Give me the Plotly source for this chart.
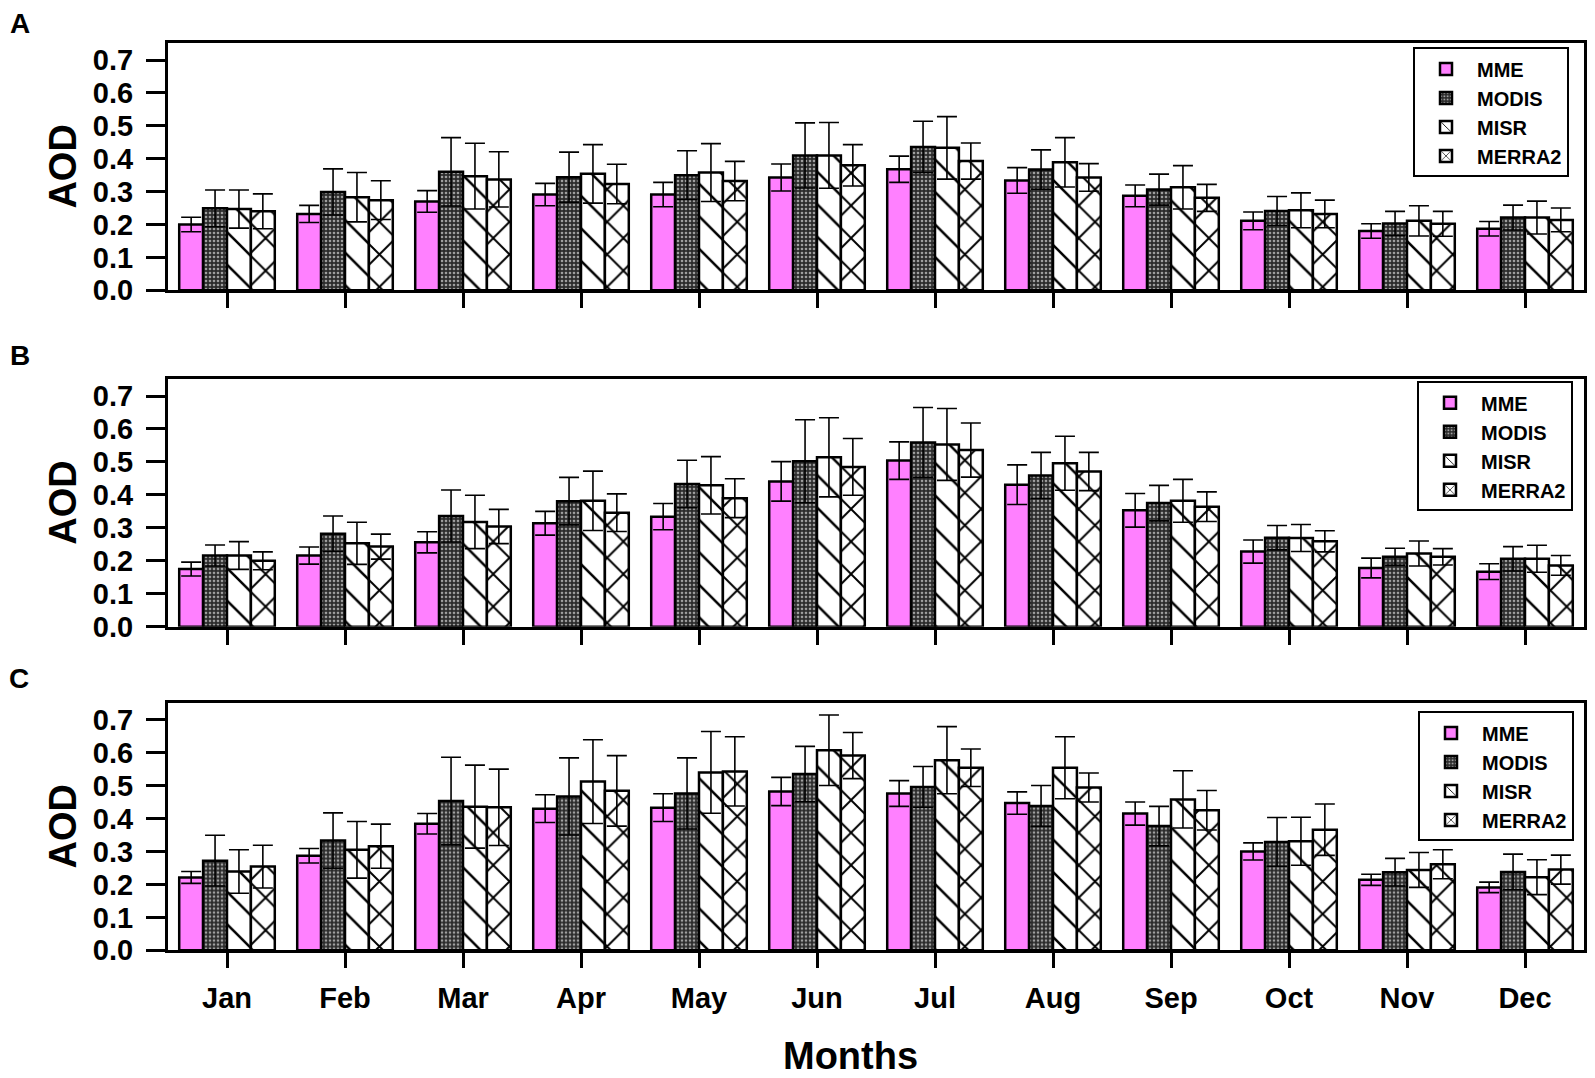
# Import modules
import plotly.graph_objects as go

# Month categories shared by all three panels
months = ['Jan', 'Feb', 'Mar', 'Apr', 'May', 'Jun', 'Jul', 'Aug', 'Sep', 'Oct', 'Nov', 'Dec']
series_names = ['MME', 'MODIS', 'MISR', 'MERRA2']
panel_letters = ['A', 'B', 'C']

# Panel A values (mean AOD and error)
a_mme = [0.200, 0.232, 0.270, 0.291, 0.291, 0.343, 0.368, 0.334, 0.287, 0.211, 0.180, 0.187]
a_mme_err = [0.022, 0.026, 0.033, 0.034, 0.037, 0.041, 0.040, 0.039, 0.033, 0.027, 0.022, 0.022]
a_modis = [0.249, 0.299, 0.360, 0.344, 0.350, 0.410, 0.436, 0.367, 0.306, 0.241, 0.203, 0.221]
a_modis_err = [0.056, 0.070, 0.104, 0.076, 0.074, 0.099, 0.078, 0.060, 0.047, 0.044, 0.037, 0.038]
a_misr = [0.247, 0.283, 0.347, 0.354, 0.358, 0.410, 0.433, 0.389, 0.313, 0.243, 0.211, 0.221]
a_misr_err = [0.058, 0.075, 0.100, 0.089, 0.088, 0.100, 0.095, 0.075, 0.066, 0.053, 0.046, 0.050]
a_merra2 = [0.240, 0.274, 0.337, 0.323, 0.332, 0.380, 0.393, 0.343, 0.281, 0.232, 0.202, 0.214]
a_merra2_err = [0.053, 0.059, 0.084, 0.060, 0.060, 0.063, 0.055, 0.042, 0.041, 0.042, 0.038, 0.036]

# Panel B values
b_mme = [0.175, 0.216, 0.256, 0.314, 0.334, 0.441, 0.504, 0.431, 0.353, 0.228, 0.178, 0.167]
b_mme_err = [0.021, 0.026, 0.032, 0.036, 0.040, 0.060, 0.057, 0.060, 0.051, 0.035, 0.030, 0.024]
b_modis = [0.216, 0.282, 0.336, 0.381, 0.433, 0.502, 0.559, 0.459, 0.375, 0.270, 0.212, 0.206]
b_modis_err = [0.032, 0.054, 0.079, 0.072, 0.072, 0.126, 0.106, 0.070, 0.054, 0.037, 0.026, 0.037]
b_misr = [0.216, 0.253, 0.318, 0.382, 0.429, 0.514, 0.553, 0.496, 0.382, 0.269, 0.222, 0.206]
b_misr_err = [0.042, 0.064, 0.081, 0.090, 0.087, 0.120, 0.109, 0.082, 0.065, 0.041, 0.038, 0.041]
b_merra2 = [0.200, 0.243, 0.304, 0.346, 0.390, 0.485, 0.536, 0.471, 0.364, 0.259, 0.212, 0.186]
b_merra2_err = [0.027, 0.038, 0.052, 0.057, 0.059, 0.086, 0.082, 0.058, 0.045, 0.032, 0.025, 0.030]

# Panel C values
c_mme = [0.221, 0.287, 0.384, 0.430, 0.433, 0.482, 0.476, 0.447, 0.415, 0.300, 0.214, 0.191]
c_mme_err = [0.018, 0.022, 0.031, 0.042, 0.042, 0.043, 0.039, 0.034, 0.035, 0.026, 0.017, 0.016]
c_modis = [0.272, 0.333, 0.453, 0.467, 0.476, 0.535, 0.496, 0.438, 0.377, 0.329, 0.237, 0.238]
c_modis_err = [0.077, 0.084, 0.133, 0.117, 0.108, 0.084, 0.062, 0.062, 0.060, 0.074, 0.042, 0.054]
c_misr = [0.239, 0.305, 0.436, 0.512, 0.540, 0.607, 0.577, 0.554, 0.458, 0.331, 0.244, 0.222]
c_misr_err = [0.066, 0.086, 0.126, 0.127, 0.124, 0.107, 0.102, 0.094, 0.087, 0.073, 0.053, 0.053]
c_merra2 = [0.254, 0.316, 0.434, 0.484, 0.543, 0.591, 0.554, 0.494, 0.425, 0.366, 0.261, 0.245]
c_merra2_err = [0.065, 0.067, 0.116, 0.107, 0.105, 0.070, 0.057, 0.044, 0.060, 0.078, 0.044, 0.044]

panels = [
    [(a_mme, a_mme_err), (a_modis, a_modis_err), (a_misr, a_misr_err), (a_merra2, a_merra2_err)],
    [(b_mme, b_mme_err), (b_modis, b_modis_err), (b_misr, b_misr_err), (b_merra2, b_merra2_err)],
    [(c_mme, c_mme_err), (c_modis, c_modis_err), (c_misr, c_misr_err), (c_merra2, c_merra2_err)],
]

# Fill / hatch style of each series
styles = {
    'MME': dict(color='#FF80FF', pattern=dict(shape='')),
    'MODIS': dict(color='#2b2b2b', pattern=dict(shape='.', fgcolor='#a0a0a0', bgcolor='#2b2b2b',
                                                 size=4, solidity=0.35, fillmode='replace')),
    'MISR': dict(color='white', pattern=dict(shape='\\', fgcolor='black', bgcolor='white',
                                             size=23, solidity=0.11, fillmode='replace')),
    'MERRA2': dict(color='white', pattern=dict(shape='x', fgcolor='black', bgcolor='white',
                                               size=23, solidity=0.16, fillmode='replace')),
}

# Page geometry (body margin of the html page is 8 px)
W, H, OFF = 1579, 1078, 8
def px(x):
    return (x - OFF) / W
def py(y):
    return 1 - (y - OFF) / H

# Pixel boxes of the three panels on the page: (top, bottom)
panel_boxes = [(43.5, 294.5), (384.5, 636), (713, 964.5)]
legend_pos = [(1413, 48), (1417, 387), (1418, 722)]
letter_pos = [(20, 24), (20, 361), (19, 689)]
x_left, x_right = 168, 1584

FONT = 'Liberation Sans, Arial, sans-serif'

fig = go.Figure()

for p, panel in enumerate(panels):
    sfx = '' if p == 0 else str(p + 1)
    leg = 'legend' if p == 0 else 'legend' + str(p + 1)
    for name, (vals, errs) in zip(series_names, panel):
        st = styles[name]
        fig.add_trace(go.Bar(
            x=months, y=vals, name=name,
            xaxis='x' + sfx, yaxis='y' + sfx, legend=leg,
            marker=dict(color=st['color'], pattern=st['pattern'],
                        line=dict(color='black', width=2.5)),
            error_y=dict(type='data', array=errs, color='black', thickness=1.6, width=10),
        ))

    top, bottom = panel_boxes[p]
    # Axis settings for this panel
    fig.update_layout({
        'xaxis' + sfx: dict(
            domain=[px(x_left), px(x_right)], anchor='y' + sfx,
            showline=True, linecolor='black', linewidth=3, mirror=True,
            ticks='outside', ticklen=15, tickwidth=3, tickcolor='black',
            showticklabels=(p == 2), showgrid=False, ticklabelstandoff=5,
            tickfont=dict(family=FONT, size=29, color='black', weight='bold'),
        ),
        'yaxis' + sfx: dict(
            domain=[py(bottom), py(top)], anchor='x' + sfx,
            range=[0, 0.752], tick0=0, dtick=0.1, tickformat='.1f',
            showline=True, linecolor='black', linewidth=3, mirror=True,
            ticks='outside', ticklen=19, tickwidth=3, tickcolor='black',
            showgrid=False, zeroline=False, ticklabelstandoff=7,
            tickfont=dict(family=FONT, size=29, color='black', weight='bold'),
        ),
        leg: dict(
            x=px(legend_pos[p][0]), y=py(legend_pos[p][1]), xanchor='left', yanchor='top',
            bgcolor='white', bordercolor='black', borderwidth=2,
            font=dict(family=FONT, size=20, color='black', weight='bold'),
            tracegroupgap=0, itemwidth=52,
        ),
    })

    # AOD title and panel letter
    fig.add_annotation(text='AOD', x=px(63), y=py((top + bottom) / 2), xref='paper', yref='paper',
                       xanchor='center', yanchor='middle', textangle=-90, showarrow=False,
                       font=dict(family=FONT, size=38, color='black', weight='bold'))
    fig.add_annotation(text=panel_letters[p], x=px(letter_pos[p][0]), y=py(letter_pos[p][1]),
                       xref='paper', yref='paper', xanchor='center', yanchor='middle',
                       showarrow=False,
                       font=dict(family=FONT, size=28, color='black', weight='bold'))

# Common x title
fig.add_annotation(text='Months', x=px(851), y=py(1072), xref='paper', yref='paper',
                   xanchor='center', yanchor='middle', showarrow=False,
                   font=dict(family=FONT, size=38, color='black', weight='bold'))

fig.update_layout(
    width=W, height=H,
    margin=dict(l=0, r=0, t=0, b=0),
    barmode='group', bargap=0.19, bargroupgap=0,
    plot_bgcolor='white', paper_bgcolor='white',
    showlegend=True,
)

fig.write_html("out.html")
